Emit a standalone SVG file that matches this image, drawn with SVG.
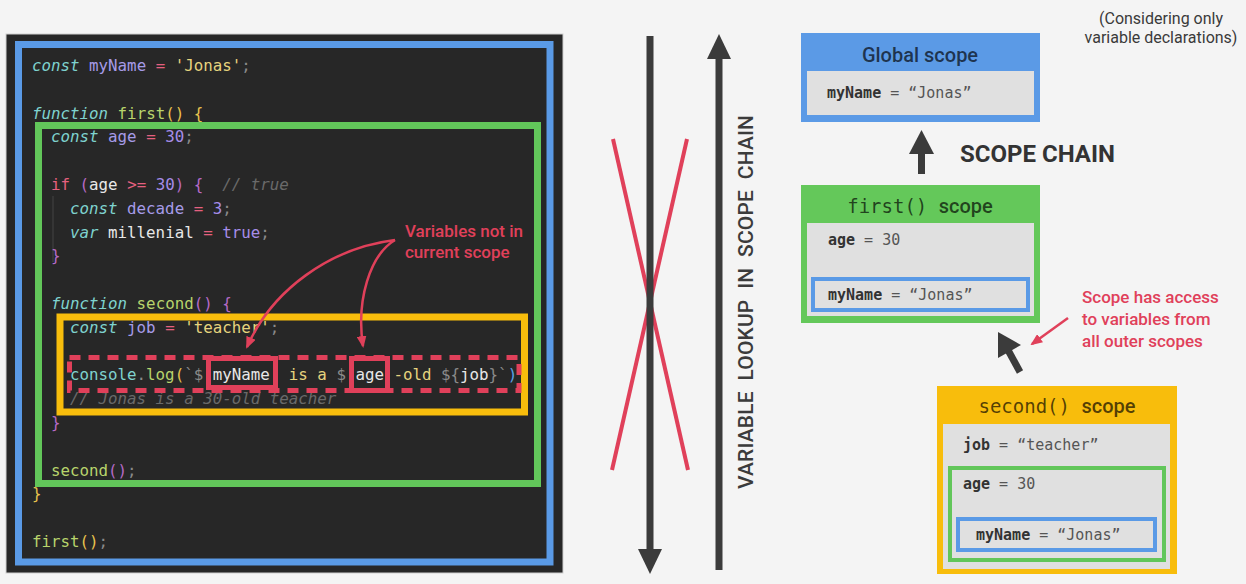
<svg xmlns="http://www.w3.org/2000/svg" width="1246" height="584" viewBox="0 0 1246 584">
<style>
.c{font-family:"DejaVu Sans Mono","Liberation Mono",monospace;font-size:15.8px}
.kw{fill:#7fd3cf;font-style:italic}
.v{fill:#a69be8}
.op{fill:#e5607f}
.s{fill:#e6d47e}
.n{fill:#a68de9}
.fn{fill:#b8d46c}
.p{fill:#8a8a8a}
.b1{fill:#e8c34e}
.b2{fill:#b66ac6}
.b3{fill:#5aa3e8}
.w{fill:#e8e8e8}
.cn{fill:#7fd3cf}
.cm{fill:#6a6a6a;font-style:italic}
.sans{font-family:Roboto,"Liberation Sans",sans-serif}
.red{fill:#e0405a;font-weight:500;font-size:17px}
.val{font-family:"DejaVu Sans Mono","Liberation Mono",monospace;font-size:15px;fill:#555}
.val .k{font-weight:bold;fill:#333}
.ttl{fill:#000;fill-opacity:0.68}
.gray{fill:#e0e0e0}
.rl{stroke:#e0405a;fill:none}
.dk{fill:#3b3b3b}
</style>
<defs>
<marker id="ra" viewBox="0 0 12 10" refX="10" refY="5" markerWidth="12" markerHeight="10" orient="auto" markerUnits="userSpaceOnUse">
<path d="M0,0 L12,5 L0,10 z" fill="#e0405a"/>
</marker>
</defs>
<rect width="1246" height="584" fill="#f4f4f4"/>

<g id="code-panel">
<rect x="6" y="34" width="557" height="539" fill="#272727" stroke="#cfcfcf" stroke-width="1"/>
<line x1="53" y1="196" x2="53" y2="262" stroke="#444" stroke-width="1"/>
<text class="c" x="32" y="71" xml:space="preserve"><tspan class="kw">const</tspan> <tspan class="v">myName</tspan> <tspan class="op">=</tspan> <tspan class="s">'Jonas'</tspan><tspan class="p">;</tspan></text>
<text class="c" x="32" y="118.6" xml:space="preserve"><tspan class="kw">function</tspan> <tspan class="fn">first</tspan><tspan class="b1">()</tspan> <tspan class="b1">{</tspan></text>
<text class="c" x="51" y="142.4" xml:space="preserve"><tspan class="kw">const</tspan> <tspan class="v">age</tspan> <tspan class="op">=</tspan> <tspan class="n">30</tspan><tspan class="p">;</tspan></text>
<text class="c" x="51" y="190" xml:space="preserve"><tspan class="op">if</tspan> <tspan class="b2">(</tspan><tspan class="w">age</tspan> <tspan class="op">&gt;=</tspan> <tspan class="n">30</tspan><tspan class="b2">)</tspan> <tspan class="b2">{</tspan>  <tspan class="cm">// true</tspan></text>
<text class="c" x="70" y="213.8" xml:space="preserve"><tspan class="kw">const</tspan> <tspan class="v">decade</tspan> <tspan class="op">=</tspan> <tspan class="n">3</tspan><tspan class="p">;</tspan></text>
<text class="c" x="70" y="237.6" xml:space="preserve"><tspan class="kw">var</tspan> <tspan class="w">millenial</tspan> <tspan class="op">=</tspan> <tspan class="n">true</tspan><tspan class="p">;</tspan></text>
<text class="c b2" x="51" y="261.4">}</text>
<text class="c" x="51" y="309" xml:space="preserve"><tspan class="kw">function</tspan> <tspan class="fn">second</tspan><tspan class="b2">()</tspan> <tspan class="b2">{</tspan></text>
<text class="c" x="70" y="332.8" xml:space="preserve"><tspan class="kw">const</tspan> <tspan class="v">job</tspan> <tspan class="op">=</tspan> <tspan class="s">'teacher'</tspan><tspan class="p">;</tspan></text>
<text class="c" x="70" y="380.4" xml:space="preserve"><tspan class="cn">console</tspan><tspan class="p">.</tspan><tspan class="fn">log</tspan><tspan class="b1">(</tspan><tspan class="p">`$</tspan> <tspan class="w">myName</tspan>  <tspan class="s">is a</tspan> <tspan class="p">$</tspan> <tspan class="w">age</tspan> <tspan class="s">-old</tspan> <tspan class="p">${</tspan><tspan class="w">job</tspan><tspan class="p">}`</tspan><tspan class="b3">)</tspan></text>
<text class="c cm" x="70" y="404.2">// Jonas is a 30-old teacher</text>
<text class="c b2" x="51" y="428">}</text>
<text class="c" x="51" y="475.6" xml:space="preserve"><tspan class="fn">second</tspan><tspan class="b2">()</tspan><tspan class="p">;</tspan></text>
<text class="c b1" x="32" y="499.4">}</text>
<text class="c" x="32" y="547" xml:space="preserve"><tspan class="fn">first</tspan><tspan class="b1">()</tspan><tspan class="p">;</tspan></text>

<rect x="18.5" y="44.5" width="531.5" height="517.5" fill="none" stroke="#5a9ae6" stroke-width="7"/>
<rect x="38.5" y="125.5" width="499" height="358" fill="none" stroke="#62c65a" stroke-width="7"/>
<rect x="60" y="317" width="464.5" height="95" fill="none" stroke="#f8bd0c" stroke-width="7"/>
<rect x="69.5" y="357.5" width="449.5" height="33" class="rl" stroke-width="5" stroke-dasharray="11 8"/>
<rect x="208.5" y="358.5" width="67" height="29" class="rl" stroke-width="5"/>
<rect x="351.5" y="358.5" width="36" height="32" class="rl" stroke-width="5"/>
</g>

<g id="note-variables">
<text class="sans red" x="405" y="237">Variables not in</text>
<text class="sans red" x="405" y="258">current scope</text>
</g>

<g id="middle">
<line x1="613" y1="139" x2="688" y2="470" stroke="#e0405a" stroke-width="4"/>
<line x1="687" y1="139" x2="612" y2="470" stroke="#e0405a" stroke-width="4"/>
<text class="sans" transform="translate(753,302) rotate(-90)" text-anchor="middle" font-size="21" font-weight="500" fill="#3b3b3b" textLength="374" lengthAdjust="spacing" xml:space="preserve">VARIABLE  LOOKUP  IN  SCOPE  CHAIN</text>
</g>

<g id="note-top">
<text class="sans" x="1161" y="24" text-anchor="middle" font-size="16" fill="#3a3a3a">(Considering only</text>
<text class="sans" x="1161" y="43" text-anchor="middle" font-size="16" fill="#3a3a3a">variable declarations)</text>
</g>

<g id="global-scope">
<rect x="801" y="33" width="239" height="89" fill="#5b9ae6"/>
<text class="sans ttl" x="920" y="62" text-anchor="middle" font-size="20" font-weight="500">Global scope</text>
<rect x="807" y="71" width="227" height="44" class="gray"/>
<text class="val" x="827" y="98" xml:space="preserve"><tspan class="k">myName</tspan> = “Jonas”</text>
</g>

<g id="scope-chain-label">
<text class="sans" x="960" y="162" font-size="24" font-weight="bold" fill="#333">SCOPE CHAIN</text>
</g>

<g id="first-scope">
<rect x="801" y="185" width="239" height="138" fill="#64c85a"/>
<text class="ttl" x="920" y="213" text-anchor="middle" xml:space="preserve"><tspan font-family="DejaVu Sans Mono, monospace" font-size="19">first()</tspan><tspan font-family="DejaVu Sans Mono, monospace" font-size="19"> </tspan><tspan class="sans" font-size="20" font-weight="500">scope</tspan></text>
<rect x="807" y="223" width="227" height="93" class="gray"/>
<text class="val" x="828" y="245" xml:space="preserve"><tspan class="k">age</tspan> = 30</text>
<rect x="813" y="279" width="215" height="31" fill="none" stroke="#5a9ae6" stroke-width="4"/>
<text class="val" x="828" y="300" xml:space="preserve"><tspan class="k">myName</tspan> = “Jonas”</text>
</g>

<g id="note-access">
<text class="sans red" x="1082" y="303">Scope has access</text>
<text class="sans red" x="1082" y="325">to variables from</text>
<text class="sans red" x="1082" y="347">all outer scopes</text>
</g>

<g id="second-scope">
<rect x="937" y="386" width="240" height="188" fill="#f8bd0c"/>
<text class="ttl" x="1057" y="413" text-anchor="middle" xml:space="preserve"><tspan font-family="DejaVu Sans Mono, monospace" font-size="19">second()</tspan><tspan font-family="DejaVu Sans Mono, monospace" font-size="19"> </tspan><tspan class="sans" font-size="20" font-weight="500">scope</tspan></text>
<rect x="943" y="424" width="227" height="145" class="gray"/>
<text class="val" x="963" y="450" xml:space="preserve"><tspan class="k">job</tspan> = “teacher”</text>
<rect x="950" y="468" width="214" height="92" fill="none" stroke="#62c65a" stroke-width="4"/>
<text class="val" x="963" y="489" xml:space="preserve"><tspan class="k">age</tspan> = 30</text>
<rect x="958" y="519" width="197" height="31" fill="none" stroke="#5a9ae6" stroke-width="4"/>
<text class="val" x="976" y="540" xml:space="preserve"><tspan class="k">myName</tspan> = “Jonas”</text>
</g>

<g id="connectors">
<path d="M395,240 C330,248 272,290 247,347" class="rl" stroke-width="2.5" marker-end="url(#ra)"/>
<path d="M395,240 C370,255 356,300 363,346" class="rl" stroke-width="2.5" marker-end="url(#ra)"/>
<line x1="650" y1="36" x2="650" y2="552" stroke="#3b3b3b" stroke-width="7"/>
<polygon class="dk" points="638,549 662,549 650,574"/>
<line x1="719" y1="57" x2="719" y2="570" stroke="#3b3b3b" stroke-width="7"/>
<polygon class="dk" points="707,59 731,59 719,34"/>
<line x1="921.5" y1="152" x2="921.5" y2="174" stroke="#3b3b3b" stroke-width="7"/>
<polygon class="dk" points="909,154 934,154 921.5,130"/>
<line x1="1008" y1="350" x2="1020" y2="372" stroke="#3b3b3b" stroke-width="7"/>
<polygon class="dk" points="998,332 1021,345 998,358"/>
<line x1="1068" y1="318" x2="1032" y2="344" class="rl" stroke-width="2.5" marker-end="url(#ra)"/>
</g>
</svg>
